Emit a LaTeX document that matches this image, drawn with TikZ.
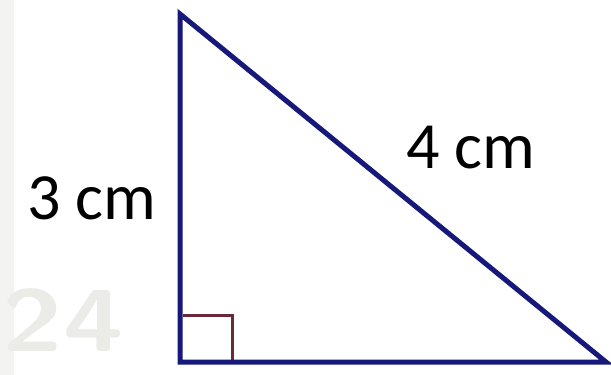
\documentclass[tikz,border=0pt]{standalone}
\usepackage{fontspec}
\setmainfont{Carlito}
\definecolor{edgeblue}{HTML}{16187A}
\definecolor{markred}{HTML}{6A2838}
\definecolor{wmark}{HTML}{EBECE8}
\begin{document}
\begin{tikzpicture}[x=1pt,y=-1pt,
  edge/.style={draw=edgeblue,line width=5pt,line join=miter},
  lbl/.style={font=\fontsize{66}{70}\selectfont,inner sep=0pt}]
\useasboundingbox (0,0) rectangle (611,375);
\fill[white] (0,0) rectangle (611,375);
\fill[wmark!60] (0,0) rectangle (14,375);
\node[text=wmark,font=\fontsize{88}{88}\bfseries\sffamily,inner sep=0pt,xscale=1.25] (wm) at (63,320) {24};
\coordinate (A) at (180,14);
\coordinate (B) at (180,362);
\coordinate (C) at (606,362);
\draw[markred,line width=3pt] (183,315) -- (232,315) -- (232,360);
\draw[edge] (A) -- (B) -- (C) -- cycle;
\node[lbl] (a) at (92,198) {3 cm};
\node[lbl] (c) at (471,148) {4 cm};
\end{tikzpicture}
\end{document}
